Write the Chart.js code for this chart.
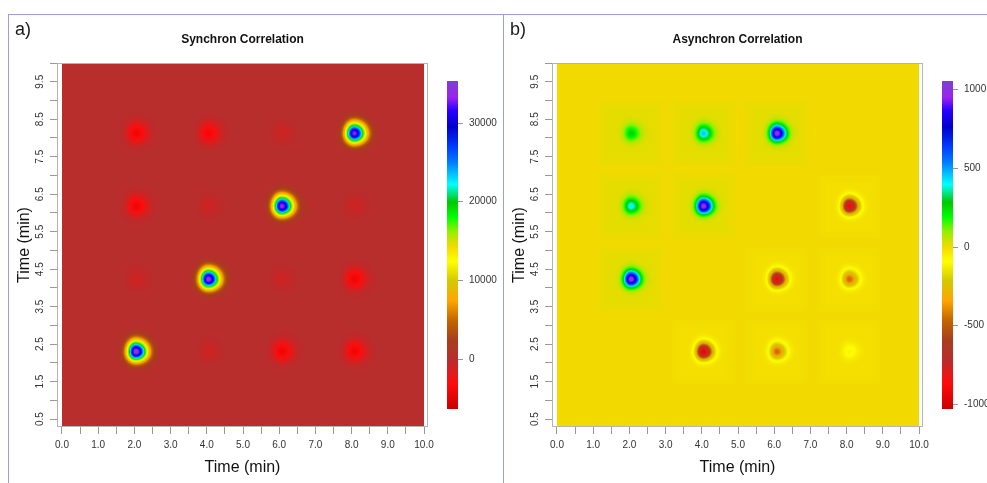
<!DOCTYPE html>
<html>
<head>
<meta charset="utf-8">
<title>Synchron / Asynchron Correlation</title>
<script src="https://cdn.jsdelivr.net/npm/chart.js@4.4.1/dist/chart.umd.min.js"></script>
<style>
    html, body { margin: 0; padding: 0; background: #fff; }
    body { width: 987px; height: 483px; overflow: hidden; position: relative; }
    .frame { position: absolute; left: 8px; top: 14px; width: 1200px; height: 600px;
             border-top: 1px solid #9d9de2; border-left: 1px solid #9d9de2; }
    .divider { position: absolute; left: 503px; top: 14px; width: 1px; height: 480px; background: #9d9de2; }
    canvas { position: absolute; top: 15px; }
    #synchron { left: 9px; }
    #asynchron { left: 504px; }
</style>
</head>
<body>
<div class="frame"></div>
<div class="divider"></div>
<canvas id="synchron" width="494" height="468"></canvas>
<canvas id="asynchron" width="494" height="468"></canvas>
<script>
// peak positions on both time axes (min)
const peakTimesX = [2.04, 4.04, 6.07, 8.07];
const peakTimesY = [2.30, 4.23, 6.18, 8.12];

// correlation intensity per peak: one row per y position (bottom to top), columns follow peakTimesX
const synchronIntensity = [
    [35000, -1000, -4200, -4200],
    [-1000, 34500, -1000, -4200],
    [-4200, -1000, 34000, -1000],
    [-4200, -3900, -1000, 33500]
];
const asynchronIntensity = [
    [0, -950, -450, -100],
    [1000, 0, -900, -450],
    [400, 1000, 0, -900],
    [250, 450, 1000, 0]
];

// colour scale limits and colour bar ticks
const synchronRange = [-6350, 35300];
const asynchronRange = [-1030, 1050];
const synchronBarTicks = [0, 10000, 20000, 30000];
const asynchronBarTicks = [-1000, -500, 0, 500, 1000];

// axis ticks
const timeSpan = [0, 10];
const xTicks = [0, 0.5, 1, 1.5, 2, 2.5, 3, 3.5, 4, 4.5, 5, 5.5, 6, 6.5, 7, 7.5, 8, 8.5, 9, 9.5, 10];
const xTickLabels = ['0.0', '', '1.0', '', '2.0', '', '3.0', '', '4.0', '', '5.0', '', '6.0', '', '7.0', '', '8.0', '', '9.0', '', '10.0'];
const yTicks = [0.5, 1, 1.5, 2, 2.5, 3, 3.5, 4, 4.5, 5, 5.5, 6, 6.5, 7, 7.5, 8, 8.5, 9, 9.5, 10];
const yTickLabels = ['0.5', '', '1.5', '', '2.5', '', '3.5', '', '4.5', '', '5.5', '', '6.5', '', '7.5', '', '8.5', '', '9.5', ''];

// peak spread (min) on each side of the maximum
const peakSpread = { left: 0.13, right: 0.175, up: 0.16, down: 0.14 };

const FONT = "'Liberation Sans', Arial, sans-serif";

// rainbow palette, position 0..1 -> rgb
const palette = [
    [0.00, [204, 0, 0]],
    [0.08, [255, 12, 12]],
    [0.15, [185, 45, 45]],
    [0.21, [168, 62, 30]],
    [0.27, [194, 102, 0]],
    [0.33, [255, 165, 0]],
    [0.39, [212, 200, 0]],
    [0.45, [255, 255, 0]],
    [0.495, [242, 218, 0]],
    [0.54, [150, 240, 0]],
    [0.585, [0, 255, 0]],
    [0.63, [0, 200, 0]],
    [0.685, [0, 255, 255]],
    [0.75, [0, 128, 255]],
    [0.80, [0, 60, 255]],
    [0.86, [0, 0, 205]],
    [0.91, [40, 0, 255]],
    [0.95, [155, 35, 240]],
    [1.00, [125, 65, 205]]
];

function colorFor(t) {
    t = Math.max(0, Math.min(1, t));
    for (let i = 1; i < palette.length; i++) {
        const [t1, c1] = palette[i];
        if (t <= t1) {
            const [t0, c0] = palette[i - 1];
            const f = (t - t0) / (t1 - t0);
            return [0, 1, 2].map(k => Math.round(c0[k] + (c1[k] - c0[k]) * f));
        }
    }
    return palette[palette.length - 1][1];
}

function rgb(c) {
    return `rgb(${c[0]},${c[1]},${c[2]})`;
}

const peakCache = new Map();

function peakCanvas(chart, value, look) {
    const xs = chart.scales.x, ys = chart.scales.y;
    if (!xs || !ys) return 'circle';
    const pxX = xs.getPixelForValue(1) - xs.getPixelForValue(0);
    const pxY = ys.getPixelForValue(0) - ys.getPixelForValue(1);
    // scales are not laid out yet on the first pass
    if (!isFinite(pxX) || !isFinite(pxY) || pxX <= 0 || pxY <= 0) return 'circle';

    const key = chart.id + ':' + value;
    if (peakCache.has(key)) return peakCache.get(key);

    const half = Math.ceil(look.reach * Math.max(pxX, pxY));
    const size = half * 2;
    const [lo, hi] = look.range;
    const tint = look.tint * Math.sign(value);
    const s = look.spread;

    const c = document.createElement('canvas');
    c.width = size;
    c.height = size;
    const g = c.getContext('2d');
    const img = g.createImageData(size, size);

    for (let j = 0; j < size; j++) {
        const dy = (j + 0.5 - half) / pxY;
        const sy = (dy < 0 ? peakSpread.up : peakSpread.down) * s;
        for (let i = 0; i < size; i++) {
            const dx = (i + 0.5 - half) / pxX;
            const sx = (dx < 0 ? peakSpread.left : peakSpread.right) * s;
            const f = Math.exp(-(dx * dx) / (2 * sx * sx) - (dy * dy) / (2 * sy * sy));
            const d = Math.max(Math.abs(dx), Math.abs(dy));
            const box = d < 0.6 ? 1 : d > 0.93 ? 0 : (0.93 - d) / 0.33;
            const v = value * f + tint * box;
            const col = colorFor((v - lo) / (hi - lo));
            const k = (j * size + i) * 4;
            img.data[k] = col[0];
            img.data[k + 1] = col[1];
            img.data[k + 2] = col[2];
            img.data[k + 3] = 255;
        }
    }
    g.putImageData(img, 0, 0);
    peakCache.set(key, c);
    return c;
}

// fills the map area with the zero level colour and draws the box
const heatField = {
    id: 'heatField',
    beforeDatasetsDraw(chart, args, opts) {
        const { ctx, chartArea, scales: { x } } = chart;
        const [lo, hi] = opts.range;
        const left = x.getPixelForValue(timeSpan[0]);
        const right = x.getPixelForValue(timeSpan[1]);
        ctx.save();
        ctx.fillStyle = rgb(colorFor((0 - lo) / (hi - lo)));
        ctx.fillRect(left, chartArea.top, right - left, chartArea.bottom - chartArea.top - 1);
        ctx.restore();
    },
    afterDatasetsDraw(chart) {
        const { ctx, chartArea } = chart;
        ctx.save();
        ctx.strokeStyle = '#b4b4b4';
        ctx.lineWidth = 1;
        ctx.strokeRect(chartArea.left + 0.5, chartArea.top + 0.5,
            chartArea.right - chartArea.left - 1, chartArea.bottom - chartArea.top - 1);
        ctx.restore();
    }
};

// vertical colour key right of the map
const colorBar = {
    id: 'colorBar',
    afterDraw(chart, args, opts) {
        const { ctx, chartArea } = chart;
        const x0 = chartArea.right + 19;
        const w = 11;
        const top = chartArea.top + 18;
        const bottom = chartArea.bottom - 18;
        const [lo, hi] = opts.range;

        ctx.save();
        const grad = ctx.createLinearGradient(0, bottom, 0, top);
        palette.forEach(([t, c]) => grad.addColorStop(t, rgb(c)));
        ctx.fillStyle = grad;
        ctx.fillRect(x0, top, w, bottom - top);

        ctx.strokeStyle = '#999';
        ctx.fillStyle = '#333';
        ctx.font = `10px ${FONT}`;
        ctx.textAlign = 'left';
        ctx.textBaseline = 'middle';
        opts.ticks.forEach(v => {
            const y = Math.round(bottom - (v - lo) / (hi - lo) * (bottom - top)) + 0.5;
            ctx.beginPath();
            ctx.moveTo(x0 + w, y);
            ctx.lineTo(x0 + w + 5, y);
            ctx.stroke();
            ctx.fillText(String(v), x0 + w + 11, y);
        });
        ctx.restore();
    }
};

// panel letter in the top left corner
const panelTag = {
    id: 'panelTag',
    afterDraw(chart, args, opts) {
        const ctx = chart.ctx;
        ctx.save();
        ctx.fillStyle = '#1a1a1a';
        ctx.font = `18px ${FONT}`;
        ctx.textAlign = 'left';
        ctx.textBaseline = 'middle';
        ctx.fillText(opts.text, 6, 15);
        ctx.restore();
    }
};

function buildPoints(intensity) {
    const pts = [];
    intensity.forEach((row, j) => {
        row.forEach((v, i) => {
            pts.push({ x: peakTimesX[i], y: peakTimesY[j], v: v });
        });
    });
    return pts;
}

function correlationMap(canvasId, tag, title, intensity, range, barTicks, look) {
    look.range = range;
    return new Chart(document.getElementById(canvasId), {
        type: 'scatter',
        data: {
            datasets: [{
                data: buildPoints(intensity),
                pointRadius: 3,
                pointStyle: ctx => ctx.raw ? peakCanvas(ctx.chart, ctx.raw.v, look) : 'circle'
            }]
        },
        options: {
            responsive: false,
            animation: false,
            events: [],
            layout: { padding: { left: 0, right: 75, top: 0, bottom: 0 } },
            plugins: {
                legend: { display: false },
                tooltip: { enabled: false },
                title: {
                    display: true,
                    text: title,
                    fullSize: false,
                    color: '#111',
                    font: { family: FONT, size: 12, weight: 'bold' },
                    padding: { top: 17.8, bottom: 15.8 }
                },
                heatField: { range: range },
                colorBar: { range: range, ticks: barTicks },
                panelTag: { text: tag }
            },
            scales: {
                x: {
                    type: 'linear',
                    min: -0.138,
                    max: 10.11,
                    afterBuildTicks: scale => { scale.ticks = xTicks.map(v => ({ value: v })); },
                    afterFit: scale => { scale.height = 56; },
                    grid: { drawOnChartArea: false, drawTicks: true, tickLength: 7, color: '#999' },
                    border: { display: false },
                    ticks: {
                        autoSkip: false,
                        maxRotation: 0,
                        padding: 5,
                        color: '#333',
                        font: { family: FONT, size: 10 },
                        callback: (v, i) => xTickLabels[i]
                    },
                    title: {
                        display: true,
                        text: 'Time (min)',
                        color: '#111',
                        font: { family: FONT, size: 16 },
                        padding: { top: 0, bottom: 5.4 }
                    }
                },
                y: {
                    type: 'linear',
                    min: 0.29,
                    max: 10,
                    afterBuildTicks: scale => { scale.ticks = yTicks.map(v => ({ value: v })); },
                    afterFit: scale => { scale.width = 48; },
                    grid: { drawOnChartArea: false, drawTicks: true, tickLength: 7, color: '#999' },
                    border: { display: false },
                    ticks: {
                        autoSkip: false,
                        minRotation: 90,
                        maxRotation: 90,
                        crossAlign: 'center',
                        padding: 3,
                        color: '#333',
                        font: { family: FONT, size: 10 },
                        callback: (v, i) => yTickLabels[i]
                    },
                    title: {
                        display: true,
                        text: 'Time (min)',
                        color: '#111',
                        font: { family: FONT, size: 16 },
                        padding: { top: 6.4, bottom: 0 }
                    }
                }
            }
        },
        plugins: [heatField, colorBar, panelTag]
    });
}

correlationMap('synchron', 'a)', 'Synchron Correlation', synchronIntensity,
    synchronRange, synchronBarTicks, { tint: 0, reach: 0.7, spread: 1.3 });
correlationMap('asynchron', 'b)', 'Asynchron Correlation', asynchronIntensity,
    asynchronRange, asynchronBarTicks, { tint: 13, reach: 0.97, spread: 1.0 });
</script>
</body>
</html>
